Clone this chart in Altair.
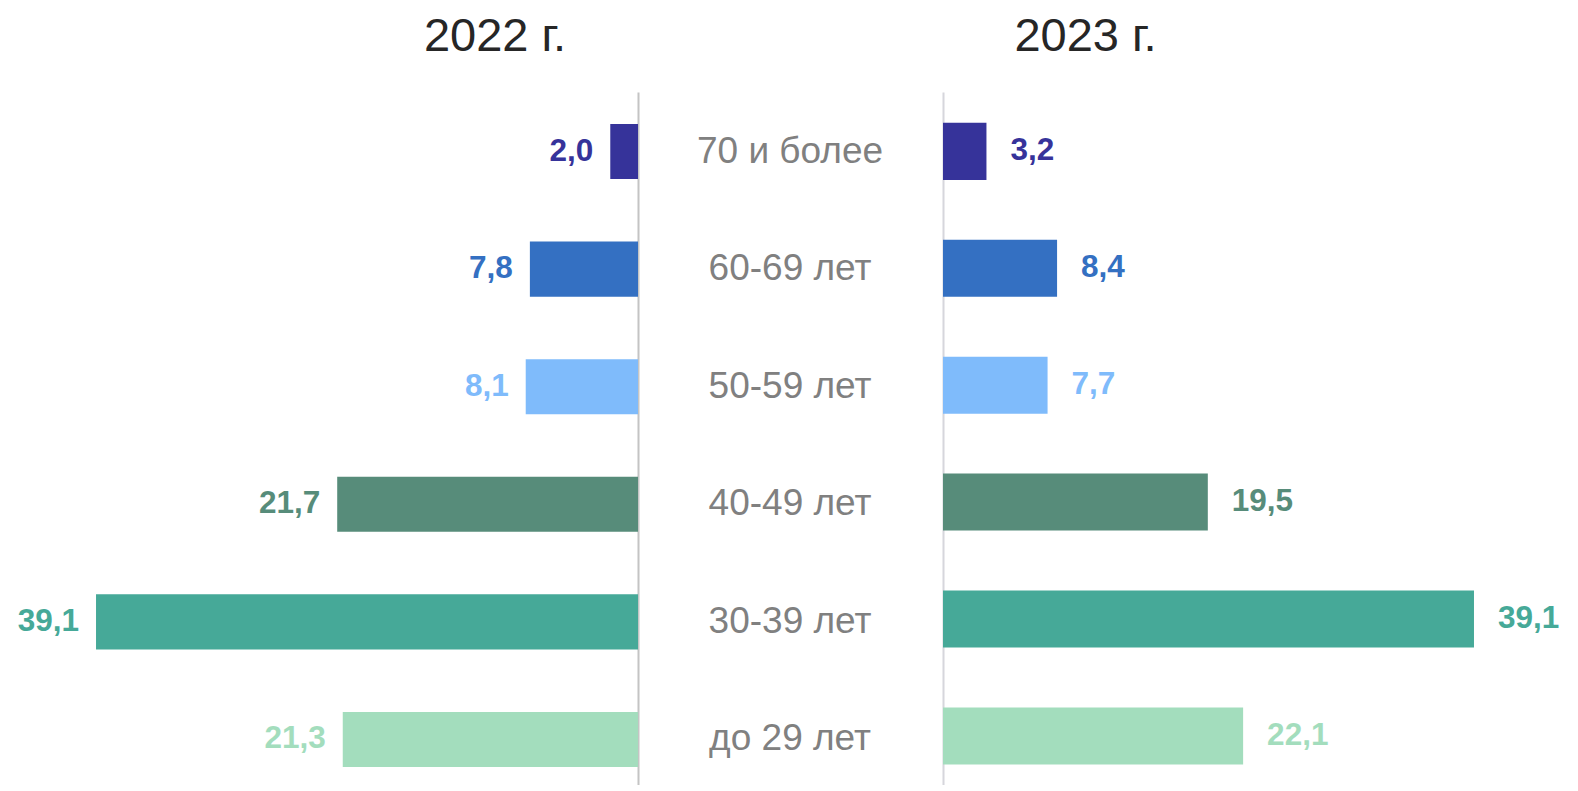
import altair as alt
import pandas as pd

categories = ["70 и более", "60-69 лет", "50-59 лет", "40-49 лет", "30-39 лет", "до 29 лет"]
v2022 = [2.0, 7.8, 8.1, 21.7, 39.1, 21.3]
v2023 = [3.2, 8.4, 7.7, 19.5, 39.1, 22.1]
colors = ["#36339A", "#3470C2", "#7FBBFB", "#578C7A", "#46A998", "#A3DDBD"]
titles = ["2022 г.", "2023 г."]

FONT = "Liberation Sans"


def fmt(v):
    return f"{v:.1f}".replace(".", ",")


df22 = pd.DataFrame({"cat": categories, "v": v2022, "lab": [fmt(v) for v in v2022]})
df23 = pd.DataFrame({"cat": categories, "v": v2023, "lab": [fmt(v) for v in v2023]})
dfm = pd.DataFrame({"cat": categories})

H = 693
color = alt.Color("cat:N", scale=alt.Scale(domain=categories, range=colors), legend=None)


def title(t, dx):
    return alt.TitleParams(t, fontSize=47, font=FONT, fontWeight="normal", color="#262626",
                           anchor="middle", dx=dx, offset=31)


# Left panel (2022)
yl = alt.Y("cat:N", sort=categories,
           scale=alt.Scale(type="band", paddingInner=0.532, paddingOuter=0.2126, align=0.64),
           axis=alt.Axis(orient="right", labels=False, ticks=False, title=None, grid=False,
                         domainColor="#c4c4c4", domainWidth=2))
xl = alt.X("v:Q", scale=alt.Scale(domain=[0, 45.45], reverse=True, nice=False, zero=True), axis=None)
lb = alt.Chart(df22).mark_bar().encode(x=xl, y=yl, color=color)
lt = alt.Chart(df22).mark_text(align="right", baseline="middle", dx=-17, fontSize=31.5,
                               fontWeight="bold", font=FONT).encode(x=xl, y=yl, text="lab:N", color=color)
left = alt.layer(lb, lt).properties(width=630, height=H, title=title(titles[0], 172))

# Middle labels
ym = alt.Y("cat:N", sort=categories,
           scale=alt.Scale(type="band", paddingInner=0.532, paddingOuter=0.2126, align=0.64), axis=None)
mid = alt.Chart(dfm).mark_text(align="center", baseline="middle", fontSize=37, font=FONT,
                               color="#808080").encode(
    x=alt.value(152), y=ym, text="cat:N").properties(width=305, height=H)

# Right panel (2023)
yr = alt.Y("cat:N", sort=categories,
           scale=alt.Scale(type="band", paddingInner=0.512, paddingOuter=0.22, align=0.60),
           axis=alt.Axis(orient="left", labels=False, ticks=False, title=None, grid=False,
                         domainColor="#d6d6dc", domainWidth=2))
xr = alt.X("v:Q", scale=alt.Scale(domain=[0, 46.17], nice=False, zero=True), axis=None)
rb = alt.Chart(df23).mark_bar().encode(x=xr, y=yr, color=color)
rt = alt.Chart(df23).mark_text(align="left", baseline="middle", dx=24, fontSize=31.5,
                               fontWeight="bold", font=FONT).encode(x=xr, y=yr, text="lab:N", color=color)
right = alt.layer(rb, rt).properties(width=627, height=H, title=title(titles[1], -171))

chart = alt.hconcat(left, mid, right, spacing=0, bounds="flush").properties(
    padding={"top": 5, "left": 0, "right": 0, "bottom": 0}
).configure_view(stroke=None).resolve_scale(y="independent", x="independent", color="shared")

chart.save("out.html", embed_options={"renderer": "svg", "actions": False})
